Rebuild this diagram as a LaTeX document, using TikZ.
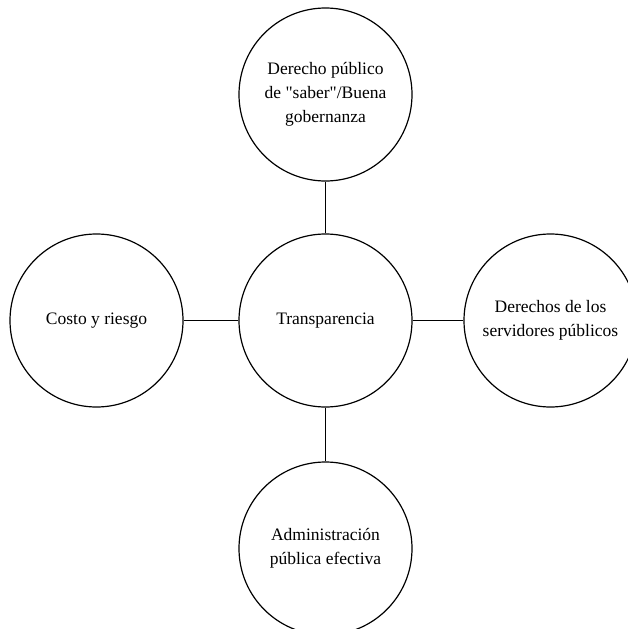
\documentclass[tikz,border=0pt]{standalone}
\usepackage{fontspec}
\setmainfont{Liberation Serif}[Ligatures=TeXOff]
\begin{document}
\begin{tikzpicture}[x=1pt,y=-1pt,
  bub/.style={draw, line width=1.2pt, circle, minimum size=173pt, inner sep=0pt, align=center,
    font=\fontsize{17.5}{24}\selectfont},
  link/.style={line width=1.2pt}]
\useasboundingbox (0,0) rectangle (627,629);
\node[bub] (c) at (325.5,320.5) {Transparencia};
\node[bub] (t) at (325.5,94.5) {Derecho público\\de "saber"/Buena\\gobernanza};
\node[bub] (l) at (96.5,320.5) {Costo y riesgo};
\node[bub] (r) at (550.5,320.5) {Derechos de los\\servidores públicos};
\node[bub] (b) at (325.5,548.5) {Administración\\pública efectiva};
\draw[link] (c) -- (t);
\draw[link] (c) -- (l);
\draw[link] (c) -- (r);
\draw[link] (c) -- (b);
\end{tikzpicture}
\end{document}
